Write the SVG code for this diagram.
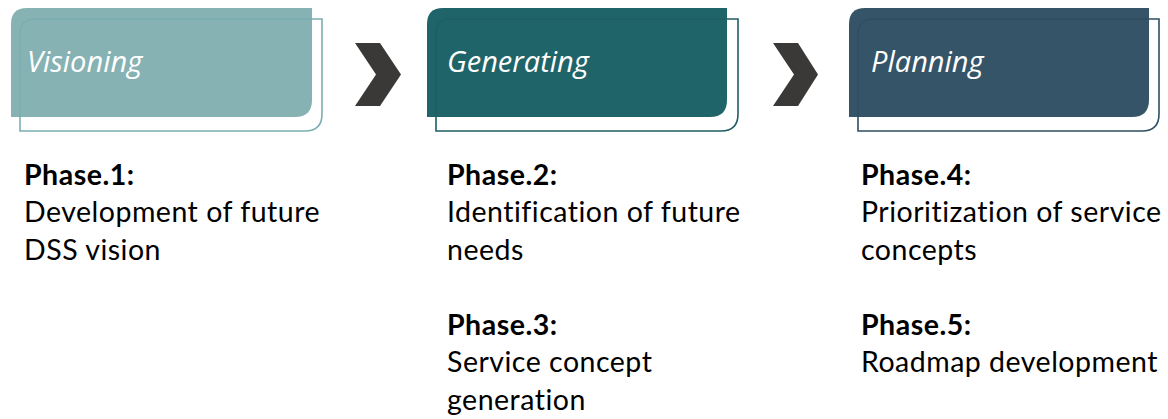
<svg xmlns="http://www.w3.org/2000/svg" width="1168" height="419" viewBox="0 0 1168 419">
<style>
.title{font-family:"Open Sans","Noto Sans",sans-serif;font-style:italic;font-size:29px;fill:#ffffff}
.head{font-family:Lato,"Open Sans",sans-serif;font-weight:bold;font-size:28.5px;letter-spacing:0.5px;fill:#000000}
.body{font-family:Lato,"Open Sans",sans-serif;font-size:28.5px;letter-spacing:0.5px;fill:#000000}
.outline{fill:none;stroke-width:1.6}
.chev{fill:#3a3938}
</style>
<rect width="1168" height="419" fill="#ffffff"/>
<g id="node-visioning">
<path d="M11,117 V24 Q11,8 27,8 H312 V100 Q312,117 295,117 Z" fill="#86b2b4"/>
<path class="outline" stroke="#7aaeb0" d="M20,131 V34 Q20,19 35,19 H322 V114 Q322,131 305,131 Z"/>
<text class="title" x="27" y="72">Visioning</text>
</g>
<g id="node-generating">
<path d="M427,117 V24 Q427,8 443,8 H727 V100 Q727,117 710,117 Z" fill="#1f6468"/>
<path class="outline" stroke="#1f5e63" d="M436,131 V34 Q436,19 451,19 H738 V114 Q738,131 721,131 Z"/>
<text class="title" x="447" y="72">Generating</text>
</g>
<g id="node-planning">
<path d="M849,117 V24 Q849,8 865,8 H1149 V100 Q1149,117 1132,117 Z" fill="#355468"/>
<path class="outline" stroke="#2f4e62" d="M858,131 V34 Q858,19 873,19 H1159 V114 Q1159,131 1142,131 Z"/>
<text class="title" x="871" y="72">Planning</text>
</g>
<g id="connectors">
<polygon class="chev" points="355,43 380,43 401,74.5 380,106 355,106 376,74.5"/>
<polygon class="chev" points="773,43 798,43 818,74.5 798,106 773,106 794,74.5"/>
</g>
<g id="text-col1">
<text class="head" x="24" y="185">Phase.1:</text>
<text class="body" x="24" y="222">Development of future</text>
<text class="body" x="24" y="260">DSS vision</text>
</g>
<g id="text-col2">
<text class="head" x="447" y="185">Phase.2:</text>
<text class="body" x="447" y="222">Identification of future</text>
<text class="body" x="447" y="260">needs</text>
<text class="head" x="447" y="335">Phase.3:</text>
<text class="body" x="447" y="372">Service concept</text>
<text class="body" x="447" y="410">generation</text>
</g>
<g id="text-col3">
<text class="head" x="861" y="185">Phase.4:</text>
<text class="body" x="861" y="222">Prioritization of service</text>
<text class="body" x="861" y="260">concepts</text>
<text class="head" x="861" y="335">Phase.5:</text>
<text class="body" x="861" y="372">Roadmap development</text>
</g>
</svg>
